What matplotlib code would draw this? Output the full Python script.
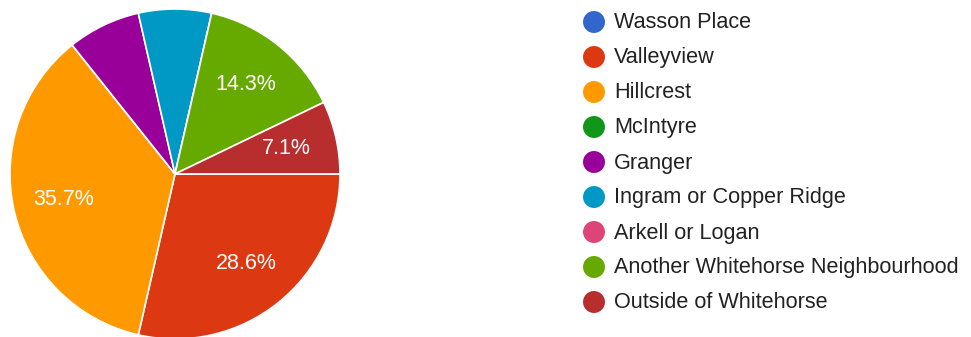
import numpy as np
import matplotlib.pyplot as plt

plt.rcParams['font.family'] = ['Liberation Sans', 'DejaVu Sans']

# responses per neighbourhood
categories = ['Wasson Place', 'Valleyview', 'Hillcrest', 'McIntyre', 'Granger',
              'Ingram or Copper Ridge', 'Arkell or Logan',
              'Another Whitehorse Neighbourhood', 'Outside of Whitehorse']
counts = [0, 4, 5, 0, 1, 1, 0, 2, 1]
show_pct = [False, True, True, False, False, False, False, True, True]
colors = ['#3366cc', '#dc3912', '#ff9900', '#109618', '#990099',
          '#0099c6', '#dd4477', '#66aa00', '#b82e2e']

W, H = 971, 337
fig = plt.figure(figsize=(W / 100, H / 100), dpi=100)

# pie: centre at (175, 174) px from top-left, radius 165 px
cx, cy, r = 175, 174, 165
ax = fig.add_axes([(cx - r) / W, (H - cy - r) / H, 2 * r / W, 2 * r / H])
wedges, _ = ax.pie(counts, colors=colors, startangle=0, counterclock=False,
                   radius=1, wedgeprops=dict(edgecolor='white', linewidth=1.2))
ax.set_xlim(-1, 1)
ax.set_ylim(-1, 1)
ax.set_aspect('auto')
ax.axis('off')

total = sum(counts)
for w, c, show in zip(wedges, counts, show_pct):
    if not show:
        continue
    mid = np.deg2rad((w.theta1 + w.theta2) / 2)
    ax.text(0.69 * np.cos(mid), 0.69 * np.sin(mid), f'{100 * c / total:.1f}%',
            ha='center', va='center', color='white', fontsize=15.5)

# legend drawn in pixel coordinates
lg = fig.add_axes([0, 0, 1, 1])
lg.set_xlim(0, W)
lg.set_ylim(H, 0)
lg.axis('off')
for i, (name, col) in enumerate(zip(categories, colors)):
    y = 22 + i * 35
    lg.scatter(594, y, s=250, color=col, edgecolors='none')
    lg.text(614, y + 1, name, ha='left', va='center', color='#222222', fontsize=15.6)

fig.savefig('out.png', dpi=100)
